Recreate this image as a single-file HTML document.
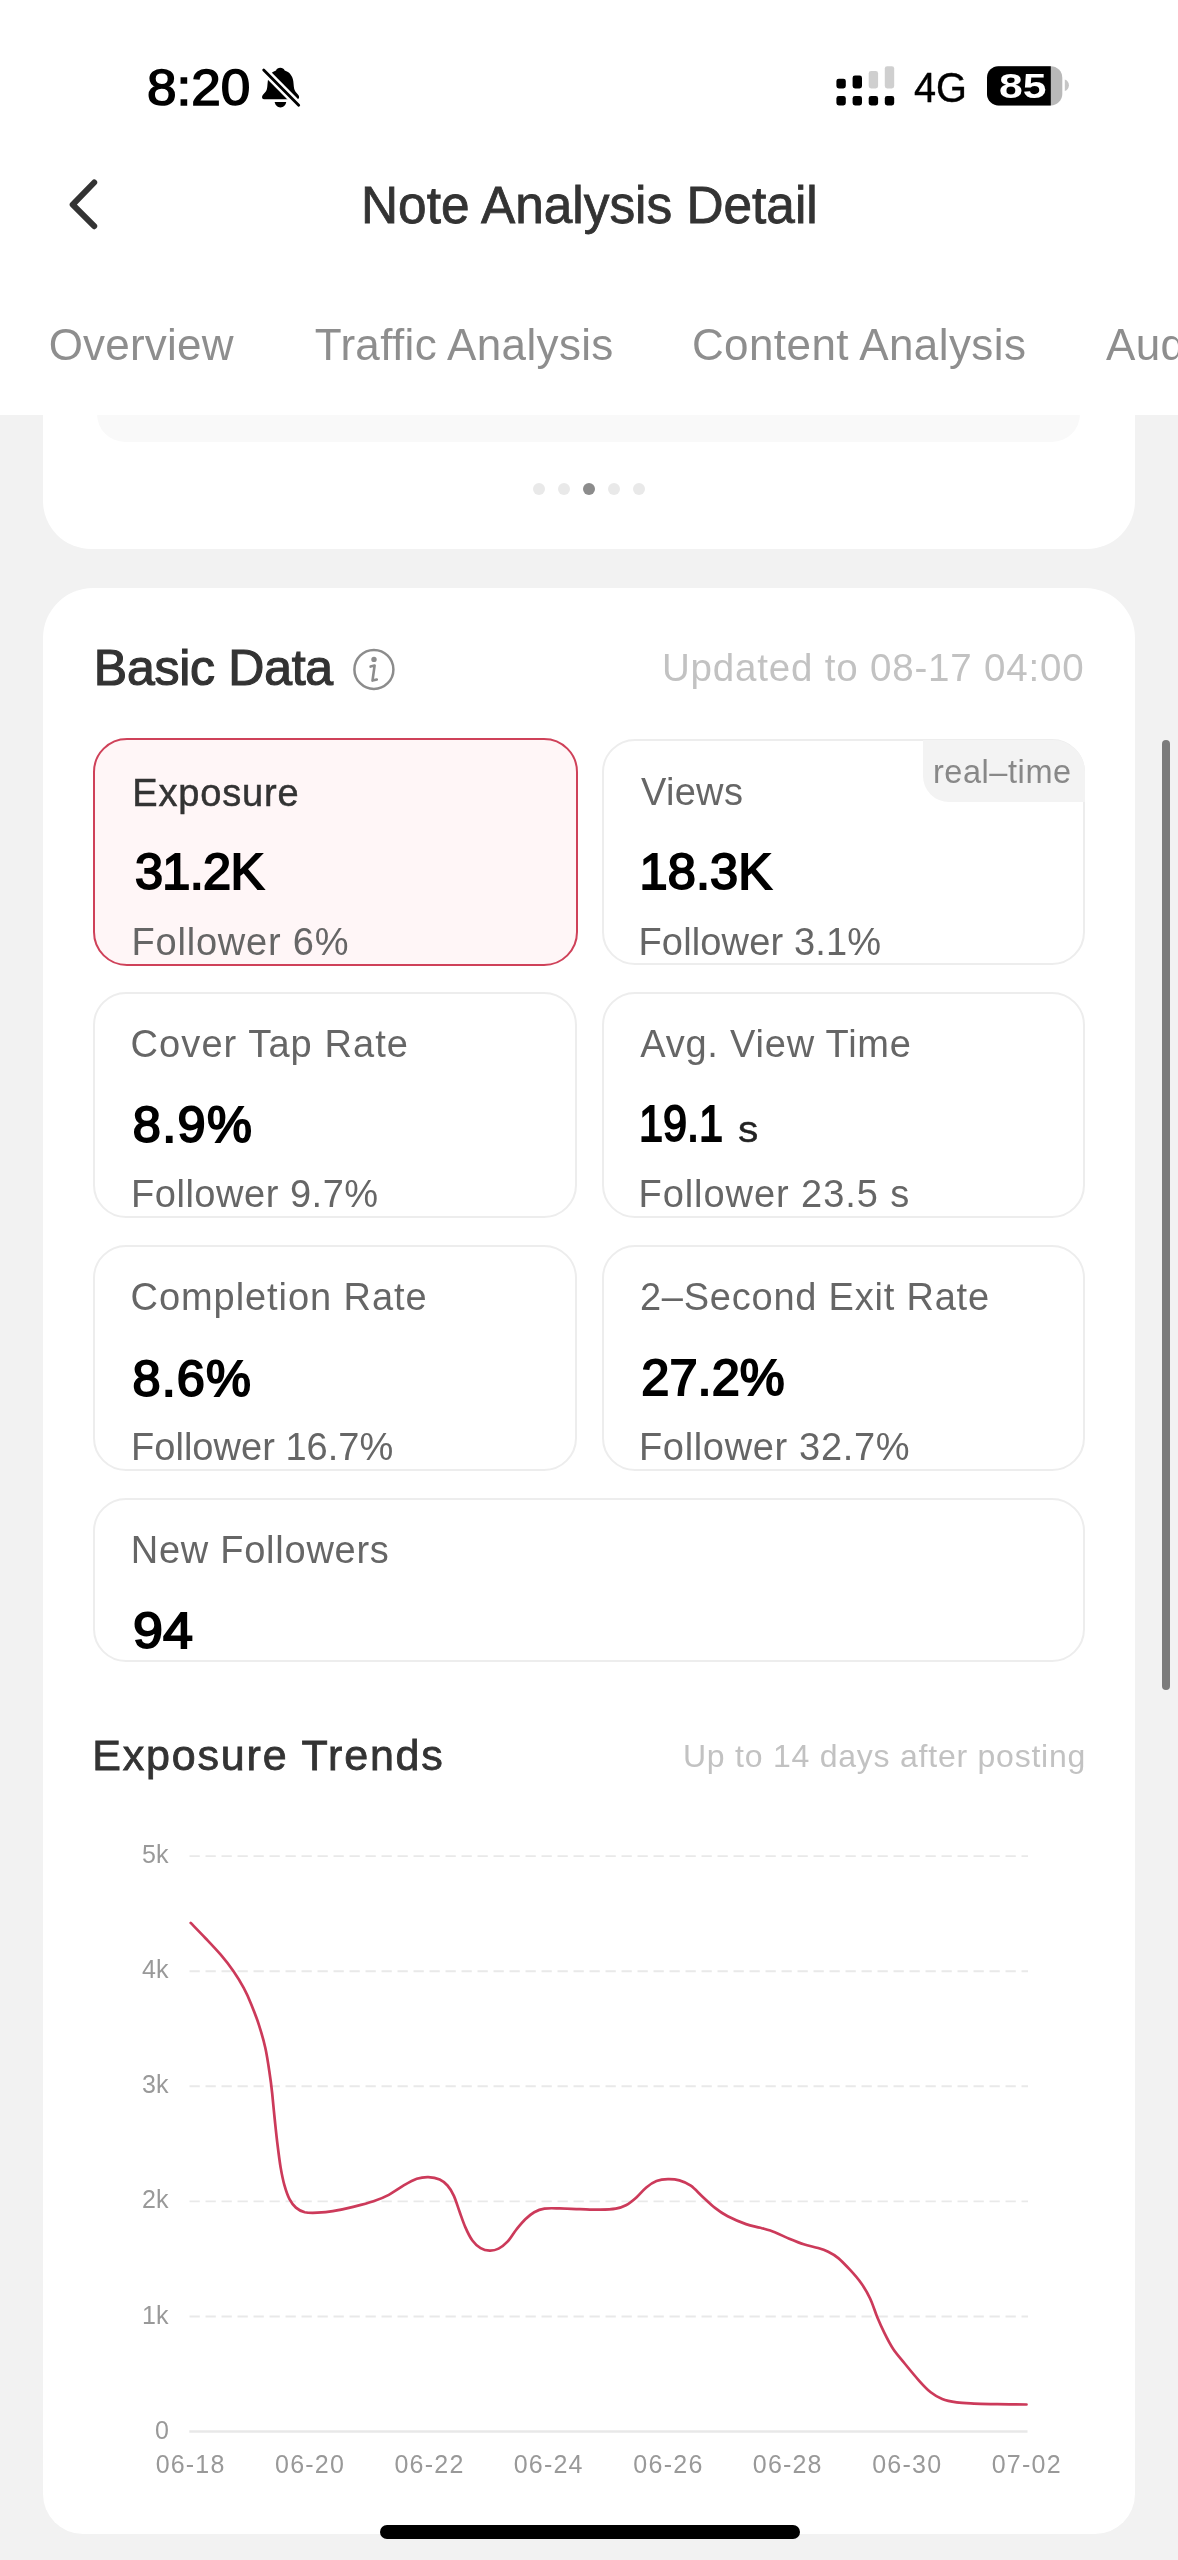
<!DOCTYPE html>
<html lang="en">
<head>
<meta charset="utf-8">
<title>Note Analysis Detail</title>
<style>
html,body{margin:0;padding:0;}
body{width:1178px;height:2560px;overflow:hidden;position:relative;background:#f2f2f2;font-family:"Liberation Sans",sans-serif;}
.abs{position:absolute;}
.t{position:absolute;white-space:nowrap;font-family:"Liberation Sans",sans-serif;}
.header{position:absolute;left:0;top:0;width:1178px;height:415px;background:#fff;z-index:5;}
.card{position:absolute;left:43px;width:1092px;background:#fff;}
.dc{position:absolute;box-sizing:border-box;border:2px solid #ededed;border-radius:33px;background:#fff;}
.dc.sel{border:2.8px solid #cf4159;background:#fff6f7;border-radius:34px;}
.dot{position:absolute;width:12px;height:12px;border-radius:50%;background:#e9e9e9;top:482.5px;}
svg{position:absolute;left:0;top:0;overflow:visible;}
</style>
</head>
<body>
<!-- previous card (scrolled under header) -->
<div class="card" style="top:300px;height:249px;border-radius:0 0 48px 48px;"></div>
<div class="abs" style="left:97px;top:380px;width:983px;height:62px;background:#f9f9f9;border-radius:0 0 28px 28px;"></div>
<div class="dot" style="left:532.5px"></div>
<div class="dot" style="left:558px"></div>
<div class="dot" style="left:583px;background:#8c8c8c"></div>
<div class="dot" style="left:608px"></div>
<div class="dot" style="left:632.5px"></div>

<!-- main card -->
<div class="card" style="top:588px;height:1946px;border-radius:50px 50px 40px 40px;"></div>
<div class="dc sel" style="left:92.5px;top:737.5px;width:485px;height:228px"></div><div class="dc " style="left:602px;top:739px;width:483px;height:226px"></div><div class="dc " style="left:93px;top:992px;width:484px;height:226px"></div><div class="dc " style="left:602px;top:992px;width:483px;height:226px"></div><div class="dc " style="left:93px;top:1245px;width:484px;height:226px"></div><div class="dc " style="left:602px;top:1245px;width:483px;height:226px"></div><div class="dc " style="left:93px;top:1497.5px;width:992px;height:164.5px"></div>
<div class="abs" style="left:923px;top:739.5px;width:161.5px;height:62px;background:#f3f3f3;border-radius:0 32px 0 26px;"></div>
<!-- scrollbar -->
<div class="abs" style="left:1162px;top:740px;width:8px;height:950px;border-radius:4px;background:#7b7b7b;"></div>

<!-- header -->
<div class="header"></div>
<svg width="1178" height="2560" viewBox="0 0 1178 2560" style="z-index:6">
  <!-- bell muted -->
  <g>
    <path d="M276 70.400C276.600 68.800 278.300 67.700 280.300 67.700C282.300 67.700 284 68.800 284.700 70.400C289.500 71.800 292.600 75.800 293.300 81.200C293.800 85 293.700 88 294.600 90C295.400 92 297.300 93.300 298.500 95.300C299.800 97.400 299 99.300 296.800 99.300H264.400C262 99.300 261.400 97.400 262.600 95.300C263.800 93.300 265.800 92 266.600 90C267.500 88 267.300 85 267.800 81.200C268.500 75.800 271.400 71.800 276 70.400Z" fill="#000"/>
    <path d="M274.700 102.100h11.500c-0.300 3-2.700 5.300-5.750 5.300s-5.450-2.300-5.750-5.300z" fill="#000"/>
    <line x1="262.5" y1="68.7" x2="299.9" y2="106.400" stroke="#fff" stroke-width="7.800"/>
    <line x1="263.7" y1="69.900" x2="298.700" y2="105.200" stroke="#000" stroke-width="2.800" stroke-linecap="round"/>
  </g>
  <!-- signal -->
  <g fill="#000">
    <rect x="836.4" y="78.700" width="9.400" height="9.700" rx="2.400"/>
    <rect x="852.600" y="75.600" width="9.400" height="12.800" rx="2.400"/>
    <rect x="868.700" y="71" width="9.400" height="17.400" rx="2.400" fill="#cfcfcf"/>
    <rect x="884.800" y="66.200" width="9.400" height="22.200" rx="2.400" fill="#cfcfcf"/>
    <rect x="836.4" y="96" width="9.400" height="9.400" rx="2.400"/>
    <rect x="852.600" y="96" width="9.400" height="9.400" rx="2.400"/>
    <rect x="868.700" y="96" width="9.400" height="9.400" rx="2.400"/>
    <rect x="884.800" y="96" width="9.400" height="9.400" rx="2.400"/>
  </g>
  <!-- battery -->
  <g>
    <rect x="987" y="66.200" width="75.300" height="39.200" rx="11.500" fill="#b9b9b9"/>
    <path d="M998.500 66.200H1050.800V105.400H998.500A11.500 11.500 0 0 1 987 93.900V77.700A11.500 11.500 0 0 1 998.500 66.200z" fill="#000"/>
    <path d="M1064.800 79.500c2.600 0.800 4.100 3 4.100 5.750s-1.500 4.950-4.100 5.750z" fill="#c6c6c6"/>
  </g>
  <!-- back chevron -->
  <path d="M94.200 182.500L72.700 204.600L94.200 226.200" fill="none" stroke="#333" stroke-width="6" stroke-linecap="round" stroke-linejoin="round"/>
</svg>

<svg width="1178" height="2560" viewBox="0 0 1178 2560" style="z-index:3">
  <!-- info icon -->
  <circle cx="373.900" cy="669.400" r="19.500" fill="none" stroke="#8c8c8c" stroke-width="2.500"/>
  <circle cx="374" cy="659.400" r="2.700" fill="#8c8c8c"/>
  <path d="M370.600 666.600L374.600 665.600L372.500 680.600L376.800 679.500" fill="none" stroke="#8c8c8c" stroke-width="2.600" stroke-linecap="round" stroke-linejoin="round"/>
  <!-- chart -->
  <g stroke="#e9e9e9" stroke-width="1.900" stroke-dasharray="10.300 5.700"><line x1="189.5" y1="2316.5" x2="1028" y2="2316.5"/><line x1="189.5" y1="2201.4" x2="1028" y2="2201.4"/><line x1="189.5" y1="2086.3" x2="1028" y2="2086.3"/><line x1="189.5" y1="1971.2" x2="1028" y2="1971.2"/><line x1="189.5" y1="1856.1" x2="1028" y2="1856.1"/></g>
  <line x1="189.300" y1="2431.6" x2="1027.500" y2="2431.6" stroke="#e8e8e8" stroke-width="2.500"/>
  <path d="M190.7 1922.9C193.2 1925.5 200.5 1932.9 205.5 1938.2C210.5 1943.5 216.0 1949.2 220.7 1954.7C225.4 1960.2 229.7 1965.8 233.5 1971.3C237.3 1976.8 240.7 1982.4 243.7 1987.9C246.7 1993.4 248.8 1998.2 251.3 2004.4C253.8 2010.6 256.6 2017.6 258.9 2024.8C261.2 2032.0 263.5 2039.6 265.3 2047.7C267.1 2055.8 268.5 2065.6 269.6 2073.2C270.8 2080.8 271.4 2085.9 272.2 2093.5C273.0 2101.1 273.8 2110.5 274.7 2119.0C275.6 2127.5 276.5 2136.4 277.5 2144.5C278.5 2152.6 279.5 2160.6 280.6 2167.4C281.8 2174.2 282.9 2179.9 284.4 2185.2C285.9 2190.5 287.6 2195.5 289.5 2199.2C291.4 2202.9 293.3 2205.4 295.9 2207.6C298.4 2209.8 301.2 2211.3 304.8 2212.2C308.4 2213.0 312.8 2212.9 317.5 2212.7C322.2 2212.5 326.9 2212.2 332.8 2211.2C338.8 2210.2 346.4 2208.6 353.2 2206.9C360.0 2205.2 367.6 2203.3 373.5 2201.3C379.4 2199.3 383.7 2197.6 388.8 2194.9C393.9 2192.2 399.4 2187.9 404.1 2185.2C408.8 2182.5 412.8 2180.2 416.8 2178.8C420.8 2177.5 424.5 2177.0 428.3 2177.1C432.1 2177.2 436.5 2178.0 439.7 2179.4C442.9 2180.8 445.1 2182.8 447.5 2185.5C449.9 2188.2 451.9 2191.5 453.9 2195.9C455.9 2200.3 457.7 2206.6 459.6 2211.8C461.5 2217.0 463.2 2222.3 465.3 2227.1C467.4 2231.9 469.8 2237.0 472.4 2240.5C474.9 2244.0 477.7 2246.4 480.6 2248.1C483.5 2249.8 486.7 2250.5 489.7 2250.6C492.7 2250.7 495.6 2250.1 498.6 2248.6C501.6 2247.1 504.5 2244.9 507.5 2241.7C510.5 2238.5 513.4 2233.2 516.4 2229.5C519.4 2225.8 522.3 2222.2 525.3 2219.3C528.3 2216.4 531.0 2214.0 534.2 2212.2C537.4 2210.4 540.1 2209.2 544.4 2208.6C548.6 2208.0 553.8 2208.3 559.7 2208.4C565.6 2208.5 573.2 2208.9 580.0 2209.1C586.8 2209.3 594.4 2209.7 600.4 2209.6C606.4 2209.5 611.5 2209.3 615.7 2208.6C620.0 2207.9 622.5 2207.1 625.9 2205.3C629.3 2203.5 632.7 2200.7 636.1 2197.7C639.5 2194.7 642.9 2190.3 646.3 2187.5C649.7 2184.7 652.9 2182.5 656.5 2181.1C660.1 2179.7 664.1 2179.2 667.9 2179.1C671.7 2179.0 675.6 2179.3 679.4 2180.4C683.2 2181.5 687.0 2183.0 690.8 2185.7C694.6 2188.4 698.3 2192.7 702.3 2196.4C706.3 2200.1 710.8 2204.6 715.0 2207.9C719.2 2211.2 722.5 2213.6 727.7 2216.3C732.9 2219.0 740.5 2222.2 746.0 2224.1C751.5 2226.0 755.6 2226.5 760.4 2227.8C765.2 2229.2 770.0 2230.4 774.8 2232.2C779.6 2234.0 784.5 2236.8 789.3 2238.8C794.1 2240.8 798.9 2242.8 803.7 2244.3C808.5 2245.8 814.0 2246.8 818.1 2248.0C822.2 2249.2 824.8 2250.1 828.2 2251.8C831.6 2253.5 834.7 2255.1 838.3 2258.1C841.9 2261.1 846.0 2265.5 849.9 2269.7C853.8 2273.9 858.0 2278.7 861.4 2283.5C864.8 2288.3 867.5 2292.9 870.1 2298.5C872.8 2304.1 874.9 2311.5 877.3 2317.3C879.7 2323.1 881.9 2327.9 884.5 2333.2C887.1 2338.5 889.8 2343.9 893.2 2349.0C896.6 2354.1 900.4 2358.2 904.7 2363.5C909.0 2368.8 914.9 2376.0 919.2 2380.8C923.5 2385.6 926.9 2389.3 930.7 2392.3C934.5 2395.3 937.9 2397.3 942.2 2399.0C946.5 2400.7 951.4 2401.6 956.7 2402.4C962.0 2403.2 967.3 2403.3 974.0 2403.6C980.7 2403.9 988.4 2404.0 997.1 2404.2C1005.9 2404.3 1021.6 2404.4 1026.5 2404.5" fill="none" stroke="#cc3a5a" stroke-width="2.700" stroke-linecap="round" stroke-linejoin="round"/>
</svg>

<div class="abs" style="left:0;top:0;width:1178px;height:2560px;z-index:7;overflow:hidden;will-change:transform;">
<span class="t" style="left:146.6px;top:62.7px;font-size:50px;line-height:50px;color:#000;-webkit-text-stroke:1.5px #000;transform:scaleX(1.062);transform-origin:0 50%;">8:20</span>
<span class="t" style="left:914.3px;top:66.8px;font-size:42px;line-height:42px;color:#000;-webkit-text-stroke:0.4px #000;transform:scaleX(0.945);transform-origin:0 50%;">4G</span>
<span class="t" style="left:999.2px;top:68.4px;font-size:35px;line-height:35px;color:#fff;font-weight:bold;transform:scaleX(1.220);transform-origin:0 50%;">85</span>
<span class="t" style="left:360.6px;top:179.6px;font-size:51px;line-height:51px;color:#333;-webkit-text-stroke:0.8px #333;transform:scaleX(1.007);transform-origin:0 50%;">Note Analysis Detail</span>
<span class="t" style="left:48.7px;top:322.8px;font-size:44px;line-height:44px;color:#8e8e8e;letter-spacing:0.20px;">Overview</span>
<span class="t" style="left:314.8px;top:322.6px;font-size:44px;line-height:44px;color:#8e8e8e;letter-spacing:0.34px;">Traffic Analysis</span>
<span class="t" style="left:691.9px;top:322.8px;font-size:44px;line-height:44px;color:#8e8e8e;letter-spacing:0.42px;">Content Analysis</span>
<span class="t" style="left:1106.1px;top:322.8px;font-size:44px;line-height:44px;color:#8e8e8e;letter-spacing:0.30px;">Audience Analysis</span>
<span class="t" style="left:93.8px;top:643.3px;font-size:50px;line-height:50px;color:#333;letter-spacing:-0.27px;-webkit-text-stroke:1.2px #333;">Basic Data</span>
<span class="t" style="left:662.0px;top:648.6px;font-size:38.5px;line-height:38.5px;color:#c2c2c2;letter-spacing:0.81px;">Updated to 08-17 04:00</span>
<span class="t" style="left:132.2px;top:773.7px;font-size:38px;line-height:38px;color:#333;letter-spacing:0.86px;-webkit-text-stroke:0.5px #333;">Exposure</span>
<span class="t" style="left:134.9px;top:847.2px;font-size:50.5px;line-height:50.5px;color:#000;letter-spacing:-0.69px;-webkit-text-stroke:1.9px #000;">31.2K</span>
<span class="t" style="left:131.5px;top:922.6px;font-size:38px;line-height:38px;color:#666;letter-spacing:0.80px;">Follower 6%</span>
<span class="t" style="left:640.9px;top:772.8px;font-size:38px;line-height:38px;color:#666;letter-spacing:0.33px;">Views</span>
<span class="t" style="left:639.6px;top:847.2px;font-size:50.5px;line-height:50.5px;color:#000;letter-spacing:0.10px;-webkit-text-stroke:1.9px #000;">18.3K</span>
<span class="t" style="left:638.5px;top:922.6px;font-size:38px;line-height:38px;color:#666;letter-spacing:0.14px;">Follower 3.1%</span>
<span class="t" style="left:932.9px;top:755.5px;font-size:32.5px;line-height:32.5px;color:#888;letter-spacing:0.57px;">real–time</span>
<span class="t" style="left:130.6px;top:1025.4px;font-size:38px;line-height:38px;color:#666;letter-spacing:1.08px;">Cover Tap Rate</span>
<span class="t" style="left:132.7px;top:1099.7px;font-size:50.5px;line-height:50.5px;color:#000;letter-spacing:1.36px;-webkit-text-stroke:1.9px #000;">8.9%</span>
<span class="t" style="left:131.0px;top:1175.2px;font-size:38px;line-height:38px;color:#666;letter-spacing:0.53px;">Follower 9.7%</span>
<span class="t" style="left:640.2px;top:1025.2px;font-size:38px;line-height:38px;color:#666;letter-spacing:0.79px;">Avg. View Time</span>
<span class="t" style="left:639.4px;top:1099.3px;font-size:50.5px;line-height:50.5px;color:#000;-webkit-text-stroke:1.9px #000;transform:scaleX(0.856);transform-origin:0 50%;">19.1</span>
<span class="t" style="left:738.1px;top:1111.5px;font-size:36px;line-height:36px;color:#222;-webkit-text-stroke:0.4px #222;transform:scaleX(1.129);transform-origin:0 50%;">s</span>
<span class="t" style="left:638.5px;top:1174.9px;font-size:38px;line-height:38px;color:#666;letter-spacing:0.94px;">Follower 23.5 s</span>
<span class="t" style="left:130.6px;top:1278.2px;font-size:38px;line-height:38px;color:#666;letter-spacing:0.93px;">Completion Rate</span>
<span class="t" style="left:132.5px;top:1353.9px;font-size:50.5px;line-height:50.5px;color:#000;letter-spacing:1.12px;-webkit-text-stroke:1.9px #000;">8.6%</span>
<span class="t" style="left:131.0px;top:1428.0px;font-size:38px;line-height:38px;color:#666;letter-spacing:0.03px;">Follower 16.7%</span>
<span class="t" style="left:639.9px;top:1278.1px;font-size:38px;line-height:38px;color:#666;letter-spacing:0.78px;">2–Second Exit Rate</span>
<span class="t" style="left:641.3px;top:1353.1px;font-size:50.5px;line-height:50.5px;color:#000;letter-spacing:0.05px;-webkit-text-stroke:1.9px #000;">27.2%</span>
<span class="t" style="left:639.0px;top:1427.5px;font-size:38px;line-height:38px;color:#666;letter-spacing:0.66px;">Follower 32.7%</span>
<span class="t" style="left:130.7px;top:1531.0px;font-size:38px;line-height:38px;color:#666;letter-spacing:0.75px;">New Followers</span>
<span class="t" style="left:133.0px;top:1606.1px;font-size:50.5px;line-height:50.5px;color:#000;-webkit-text-stroke:1.9px #000;transform:scaleX(1.065);transform-origin:0 50%;">94</span>
<span class="t" style="left:92.2px;top:1734.2px;font-size:43px;line-height:43px;color:#333;letter-spacing:1.83px;-webkit-text-stroke:0.8px #333;">Exposure Trends</span>
<span class="t" style="left:682.9px;top:1739.7px;font-size:32px;line-height:32px;color:#c2c2c2;letter-spacing:0.77px;">Up to 14 days after posting</span>
<span class="t" style="left:155.1px;top:2417.6px;font-size:25px;line-height:25px;color:#999;">0</span>
<span class="t" style="left:142.1px;top:2302.5px;font-size:25px;line-height:25px;color:#999;">1k</span>
<span class="t" style="left:142.1px;top:2187.4px;font-size:25px;line-height:25px;color:#999;">2k</span>
<span class="t" style="left:142.1px;top:2072.3px;font-size:25px;line-height:25px;color:#999;">3k</span>
<span class="t" style="left:142.1px;top:1957.2px;font-size:25px;line-height:25px;color:#999;">4k</span>
<span class="t" style="left:142.1px;top:1842.1px;font-size:25px;line-height:25px;color:#999;">5k</span>
<span class="t" style="left:155.7px;top:2452.0px;font-size:25px;line-height:25px;color:#999;letter-spacing:1.18px;">06-18</span>
<span class="t" style="left:275.0px;top:2452.0px;font-size:25px;line-height:25px;color:#999;letter-spacing:1.24px;">06-20</span>
<span class="t" style="left:394.4px;top:2452.0px;font-size:25px;line-height:25px;color:#999;letter-spacing:1.25px;">06-22</span>
<span class="t" style="left:513.7px;top:2452.0px;font-size:25px;line-height:25px;color:#999;letter-spacing:1.22px;">06-24</span>
<span class="t" style="left:633.3px;top:2452.0px;font-size:25px;line-height:25px;color:#999;letter-spacing:1.31px;">06-26</span>
<span class="t" style="left:752.8px;top:2452.0px;font-size:25px;line-height:25px;color:#999;letter-spacing:1.18px;">06-28</span>
<span class="t" style="left:872.2px;top:2452.0px;font-size:25px;line-height:25px;color:#999;letter-spacing:1.24px;">06-30</span>
<span class="t" style="left:991.7px;top:2452.0px;font-size:25px;line-height:25px;color:#999;letter-spacing:1.25px;">07-02</span>
</div>

<!-- home indicator -->
<div class="abs" style="left:379.5px;top:2524.5px;width:420px;height:14px;border-radius:7px;background:#000;z-index:9;"></div>
</body>
</html>
